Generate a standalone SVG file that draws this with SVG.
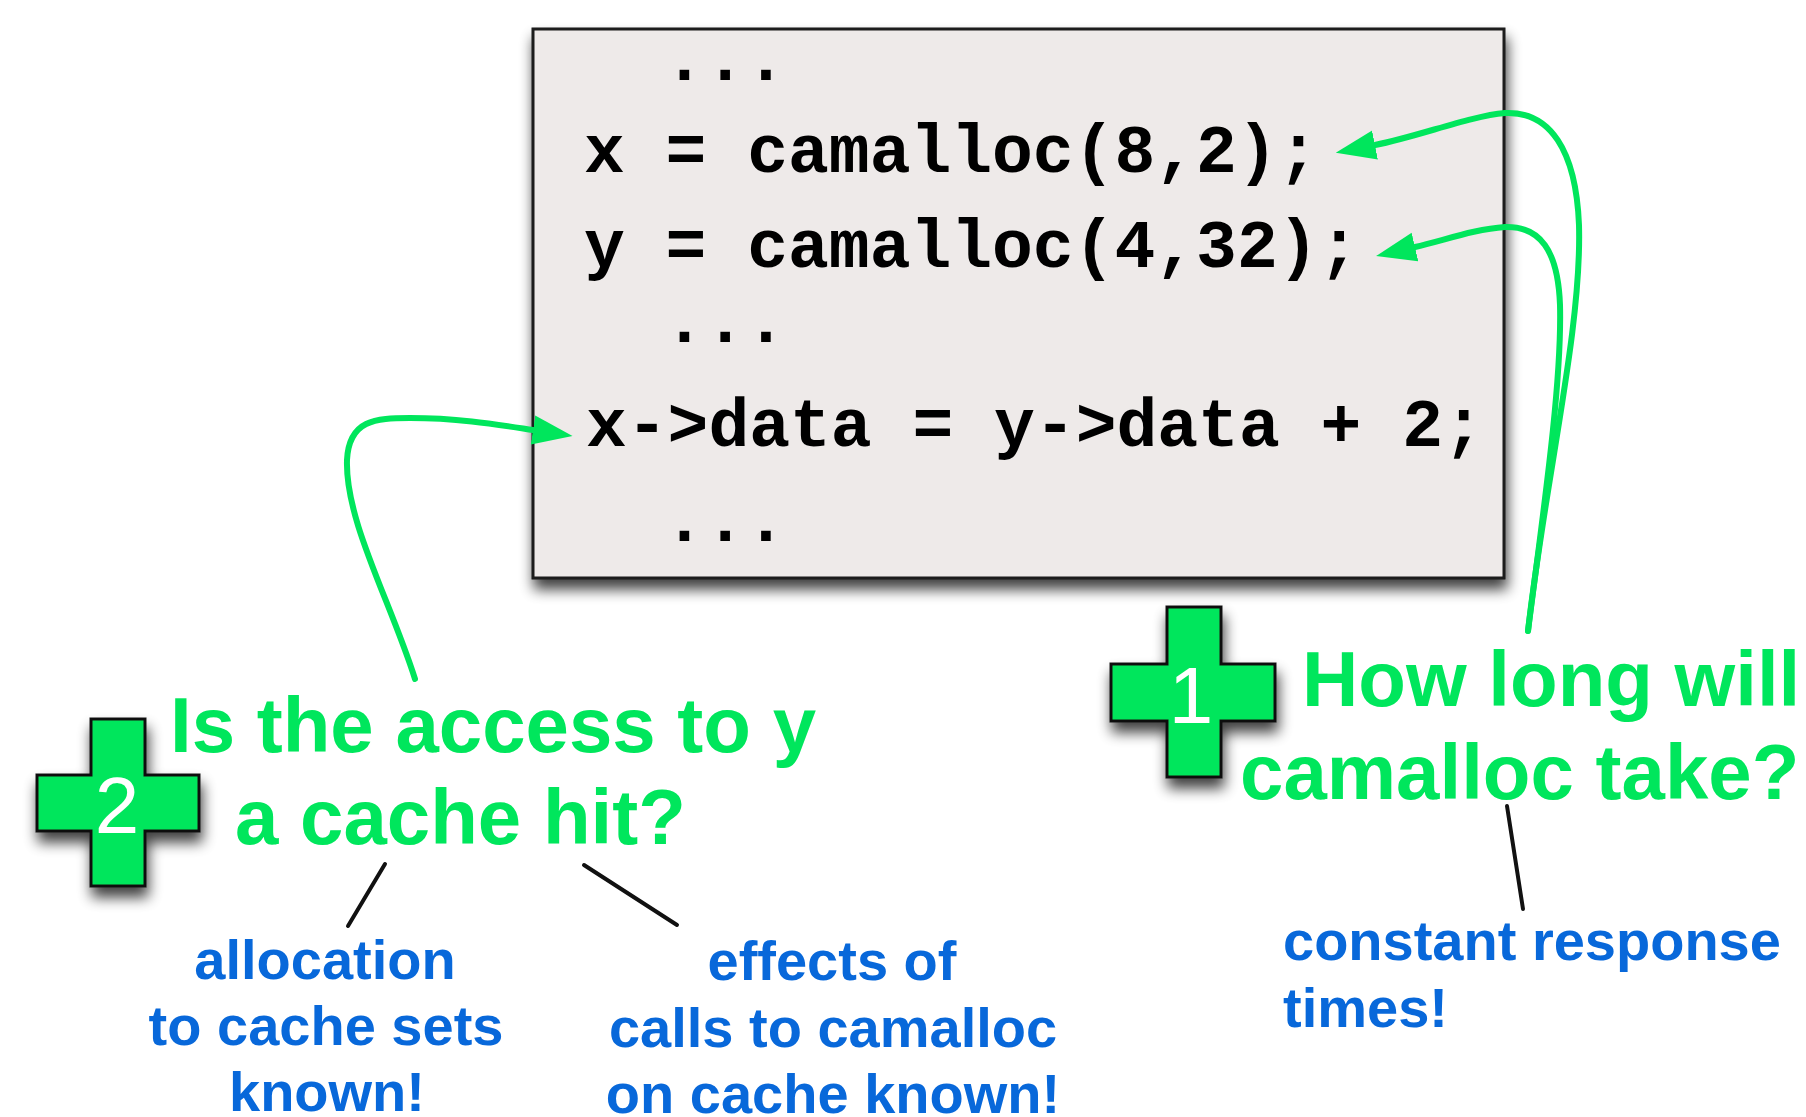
<svg xmlns="http://www.w3.org/2000/svg" width="1806" height="1117" viewBox="0 0 1806 1117">
<style>
.code{font-family:"Liberation Mono","DejaVu Sans Mono",monospace;font-weight:bold;font-size:68px;fill:#000}
.q{font-family:"Liberation Sans",Arial,sans-serif;font-weight:bold;font-size:78px;fill:#00E65C}
.a{font-family:"Liberation Sans",Arial,sans-serif;font-weight:bold;font-size:56px;fill:#0868DA}
.num{font-family:"Liberation Sans",Arial,sans-serif;font-size:80px;fill:#fff;text-anchor:middle}
.cross{fill:#00E65C;stroke:#111;stroke-width:3;stroke-linejoin:miter}
.conn{fill:none;stroke:#00E65C;stroke-width:6;stroke-linecap:round}
.lead{fill:none;stroke:#111;stroke-width:4;stroke-linecap:round}
</style>
<defs>
<filter id="sh" x="-20%" y="-20%" width="140%" height="150%">
<feGaussianBlur in="SourceAlpha" stdDeviation="7"/>
<feOffset dx="2" dy="10" result="b"/>
<feComponentTransfer><feFuncA type="linear" slope="0.75"/></feComponentTransfer>
<feMerge><feMergeNode/><feMergeNode in="SourceGraphic"/></feMerge>
</filter>
<marker id="ah" markerUnits="userSpaceOnUse" markerWidth="40" markerHeight="30" viewBox="0 0 38 28" refX="0" refY="14" orient="auto">
<path d="M0,0 L38,14 L0,28 Z" fill="#00E65C"/>
</marker>
</defs>
<g id="code">
<rect x="533" y="29" width="971" height="549" fill="#EEEAE9" stroke="#1a1a1a" stroke-width="3" filter="url(#sh)"/>
<text class="code" x="664" y="80">...</text>
<text class="code" x="584" y="172">x = camalloc(8,2);</text>
<text class="code" x="584" y="267">y = camalloc(4,32);</text>
<text class="code" x="664" y="342">...</text>
<text class="code" x="586" y="446">x-&gt;data = y-&gt;data + 2;</text>
<text class="code" x="664" y="541">...</text>
</g>
<g id="q1">
<path class="cross" filter="url(#sh)" d="M1167,607 H1221 V664 H1275 V721 H1221 V777 H1167 V721 H1111 V664 H1167 Z"/>
<text class="num" x="1191" y="723">1</text>
<text class="q" x="1302" y="706">How long will</text>
<text class="q" x="1240" y="799">camalloc take?</text>
</g>
<g id="q2">
<path class="cross" filter="url(#sh)" d="M91,719 H145 V775 H199 V831 H145 V886 H91 V831 H37 V775 H91 Z"/>
<text class="num" x="117" y="833">2</text>
<text class="q" x="170" y="752">Is the access to y</text>
<text class="q" x="235" y="844">a cache hit?</text>
</g>
<g id="a1">
<text class="a" text-anchor="middle" x="325" y="979">allocation</text>
<text class="a" text-anchor="middle" x="326" y="1045">to cache sets</text>
<text class="a" text-anchor="middle" x="327" y="1111">known!</text>
</g>
<g id="a2">
<text class="a" text-anchor="middle" x="832" y="980">effects of</text>
<text class="a" text-anchor="middle" x="833" y="1047">calls to camalloc</text>
<text class="a" text-anchor="middle" x="833" y="1113">on cache known!</text>
</g>
<g id="a3">
<text class="a" x="1283" y="960">constant response</text>
<text class="a" x="1283" y="1027">times!</text>
</g>
<g id="connectors">
<path class="conn" marker-end="url(#ah)" d="M1528,631 C1545,480 1582,330 1579,225 C1576,150 1550,111 1505,113 C1470,116 1420,136 1375,145"/>
<path class="conn" marker-end="url(#ah)" d="M1528,631 C1545,500 1562,380 1560,305 C1558,250 1540,226 1505,227 C1475,229 1445,240 1415,247"/>
<path class="conn" marker-end="url(#ah)" d="M415,679 C390,600 345,520 347,460 C349,420 375,418 410,418 C460,418 500,425 533,430"/>
<line class="lead" x1="385" y1="864" x2="348" y2="926"/>
<line class="lead" x1="584" y1="865" x2="677" y2="925"/>
<line class="lead" x1="1507" y1="806" x2="1523" y2="909"/>
</g>
</svg>
